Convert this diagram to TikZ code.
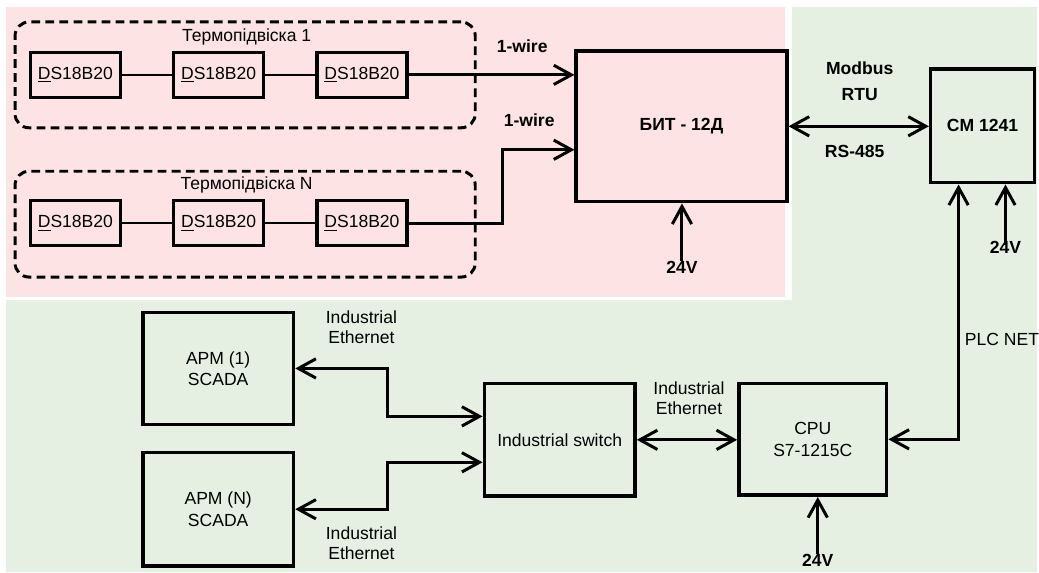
\documentclass[tikz,border=0pt]{standalone}
\usepackage{fontspec}
\setmainfont{Liberation Sans}
\usepackage{xcolor}
\definecolor{pinkbg}{HTML}{FDE3E3}
\definecolor{greenbg}{HTML}{E5F0E3}
\usetikzlibrary{arrows.meta, positioning, calc}

\begin{document}
\begin{tikzpicture}[
        x=0.02cm, y=-0.02cm,
        node distance=1cm,
        sensor_node/.style={
            rectangle,
            draw=black,
            line width=2pt,
            minimum width=1.8cm,
            minimum height=0.9cm,
            inner sep=0pt,
            font=\fontsize{10}{12}\selectfont
        },
        group_node/.style={
            rectangle,
            rounded corners=8pt,
            draw=black,
            line width=1.7pt,
            dash pattern=on 5pt off 3pt,
            minimum width=9.22cm,
            minimum height=2.12cm
        },
        block_node/.style={
            rectangle,
            draw=black,
            line width=2pt,
            inner sep=0pt,
            align=center,
            font=\fontsize{10}{12}\selectfont
        },
        label_node/.style={
            align=center,
            inner sep=0pt,
            font=\fontsize{10}{11.5}\selectfont
        },
        arrow/.style={
            -{Straight Barb[length=10pt, width=11pt]},
            line width=1.7pt
        },
        biarrow/.style={
            {Straight Barb[length=10pt, width=11pt]}-{Straight Barb[length=10pt, width=11pt]},
            line width=1.7pt
        },
        wire/.style={line width=1.1pt}
    ]

    % Backgrounds
    \fill[white] (0,0) rectangle (1039,573);
    \fill[pinkbg] (6,7) rectangle (786,297);
    \fill[greenbg] (793,7) rectangle (1039,300);
    \fill[greenbg] (6,300) rectangle (1039,573);

    % Sensor strings
    \node[group_node] (grp1) at (245.5,75) {};
    \node[label_node] (title1) at (247,37) {Термопідвіска 1};
    \node[sensor_node] (ds11) at (75.5,75) {\underline{D}S18B20};
    \node[sensor_node, right=of ds11] (ds12) {\underline{D}S18B20};
    \node[sensor_node, right=of ds12] (ds13) {\underline{D}S18B20};

    \node[group_node] (grp2) at (245.5,224.5) {};
    \node[label_node] (title2) at (247,185) {Термопідвіска N};
    \node[sensor_node] (ds21) at (75.5,223.5) {\underline{D}S18B20};
    \node[sensor_node, right=of ds21] (ds22) {\underline{D}S18B20};
    \node[sensor_node, right=of ds22] (ds23) {\underline{D}S18B20};

    \draw[wire] (ds11) -- (ds12);
    \draw[wire] (ds12) -- (ds13);
    \draw[wire] (ds21) -- (ds22);
    \draw[wire] (ds22) -- (ds23);

    % Main blocks
    \node[block_node, minimum width=4.22cm, minimum height=3.02cm] (bit) at (682.5,126.5) {\textbf{БИТ - 12Д}};
    \node[block_node, minimum width=2.08cm, minimum height=2.28cm] (cm) at (984,126) {\textbf{CM 1241}};
    \node[block_node, minimum width=3.02cm, minimum height=2.24cm] (apm1) at (218.5,369) {APM (1)\\SCADA};
    \node[block_node, minimum width=3.02cm, minimum height=2.28cm] (apmn) at (218.5,510) {APM (N)\\SCADA};
    \node[block_node, minimum width=3.02cm, minimum height=2.26cm] (switch) at (560.5,440.5) {Industrial switch};
    \node[block_node, minimum width=2.96cm, minimum height=2.24cm, font=\fontsize{10}{12.5}\selectfont] (cpu) at (814,440) {CPU\\S7-1215C};

    % Power inputs
    \node[label_node, font=\bfseries\fontsize{10}{12}\selectfont] (pwr1) at (683,268) {24V};
    \node[label_node, font=\bfseries\fontsize{10}{12}\selectfont] (pwr2) at (1007,248) {24V};
    \node[label_node, font=\bfseries\fontsize{10}{12}\selectfont] (pwr3) at (819,561) {24V};

    % Connector labels
    \node[label_node, font=\bfseries\fontsize{10}{12}\selectfont] (w1) at (523,46) {1-wire};
    \node[label_node, font=\bfseries\fontsize{10}{12}\selectfont] (w2) at (530,120) {1-wire};
    \node[label_node, font=\bfseries\fontsize{10}{14.7}\selectfont] (modbus) at (861,81) {Modbus\\RTU};
    \node[label_node, font=\bfseries\fontsize{10}{12}\selectfont] (rs) at (856,152) {RS-485};
    \node[label_node] (eth1) at (362,328) {Industrial\\Ethernet};
    \node[label_node] (eth2) at (362,544) {Industrial\\Ethernet};
    \node[label_node] (eth3) at (690,399) {Industrial\\Ethernet};
    \node[label_node, anchor=west] (plc) at (966,340) {PLC NET};

    % Connecting Arrows
    \draw[arrow] (ds13.east) -- (ds13.east -| bit.west);
    \draw[arrow] (ds23.east) -- ++(94,0) |- ([yshift=-0.47cm]bit.west);
    \draw[biarrow] (bit.east) -- (bit.east -| cm.west);
    \draw[arrow] (pwr1.north) -- (pwr1.north |- bit.south);
    \draw[arrow] ([yshift=-2pt]pwr2.north) -- (pwr2.north |- cm.south);
    \draw[arrow] (pwr3.north) -- (pwr3.north |- cpu.south);
    \draw[biarrow] (cpu.east) -| ([xshift=-0.48cm]cm.south);
    \draw[biarrow] (switch.east) -- (switch.east -| cpu.west);
    \draw[biarrow] ([yshift=0.47cm]switch.west) -- ++(-95,0) |- (apm1.east);
    \draw[biarrow] ([yshift=-0.45cm]switch.west) -- ++(-95,0) |- (apmn.east);

    \end{tikzpicture}
\end{document}
